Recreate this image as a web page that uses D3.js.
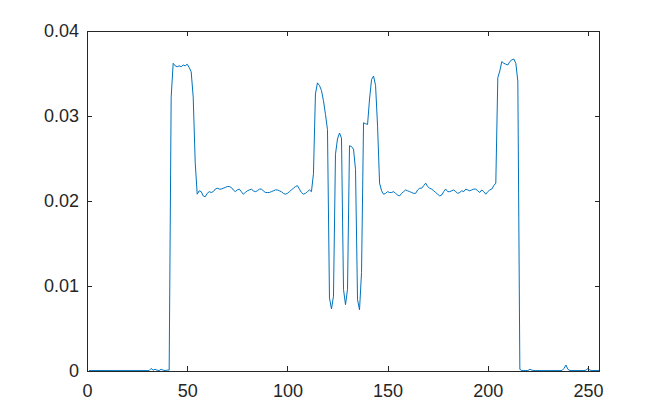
<!DOCTYPE html>
<html>
<head>
<meta charset="utf-8">
<script src="https://cdn.jsdelivr.net/npm/d3@7"></script>
<style>
  body { margin: 0; background: #fff; }
  svg text { font-family: "Liberation Sans", Arial, sans-serif; }
</style>
</head>
<body>
<div id="chart"></div>
<script>
let signal = [
  0.00005,0.00005,0.00005,0.00005,0.00005,0.00005,0.00005,0.00005,0.00005,0.00005,0.00005,0.00005,0.00005,0.00005,0.00005,0.00005,
  0.00005,0.00005,0.00005,0.00005,0.00005,0.00005,0.00005,0.00005,0.00005,0.00005,0.00005,0.00005,0.00005,0.00005,0.00005,0.0003,
  0.0001,0.0002,0.0001,0.00005,0.0002,0.0001,0.00005,0.0001,0.0001,0.0322,0.0362,0.0359,0.0358,0.0359,0.0358,0.0360,
  0.0359,0.0361,0.0357,0.0352,0.0322,0.0245,0.0208,0.0212,0.0211,0.0206,0.0205,0.0209,0.0211,0.0210,0.0211,0.0214,
  0.0215,0.0214,0.0214,0.0215,0.0216,0.0217,0.0217,0.0216,0.0213,0.0211,0.0213,0.0214,0.0211,0.0208,0.0210,0.0212,
  0.0213,0.0214,0.0212,0.0211,0.0212,0.0214,0.0214,0.0212,0.0210,0.0210,0.0210,0.0211,0.0212,0.0213,0.0213,0.0212,
  0.0211,0.0209,0.0208,0.0209,0.0211,0.0213,0.0215,0.0217,0.0218,0.0214,0.0210,0.0208,0.0209,0.0211,0.0213,0.0211,
  0.0232,0.0326,0.0339,0.0336,0.0330,0.0318,0.0302,0.0284,0.0086,0.0073,0.0088,0.0255,0.0273,0.0280,0.0274,0.0096,
  0.0078,0.0096,0.0265,0.0264,0.0261,0.0237,0.0084,0.0072,0.0116,0.0292,0.0291,0.0290,0.0320,0.0343,0.0347,0.0336,
  0.0288,0.0221,0.0212,0.0208,0.0209,0.0211,0.0210,0.0210,0.0211,0.0209,0.0207,0.0206,0.0209,0.0211,0.0213,0.0212,
  0.0211,0.0210,0.0209,0.0209,0.0213,0.0215,0.0215,0.0218,0.0221,0.0217,0.0215,0.0214,0.0212,0.0210,0.0208,0.0206,
  0.0207,0.0211,0.0214,0.0211,0.0211,0.0212,0.0213,0.0211,0.0209,0.0210,0.0212,0.0211,0.0214,0.0213,0.0212,0.0213,
  0.0214,0.0214,0.0212,0.0210,0.0213,0.0211,0.0208,0.0211,0.0213,0.0214,0.0218,0.0221,0.0345,0.0353,0.0364,0.0362,
  0.0361,0.0360,0.0364,0.0366,0.0367,0.0362,0.0341,0.0002,0.00005,0.00005,0.00005,0.00005,0.0002,0.0001,0.00005,0.00005,
  0.00005,0.00005,0.00005,0.00005,0.00005,0.00005,0.00005,0.00005,0.00005,0.00005,0.00005,0.00005,0.00005,0.0003,0.0007,0.0002,
  0.00005,0.00005,0.00005,0.00005,0.00005,0.00005,0.00005,0.00005,0.0001,0.0003,0.0001,0.00005,0.00005,0.00005,0.00005,0.00005
];
let xTicks = [0, 50, 100, 150, 200, 250];
let yTicks = [0, 0.01, 0.02, 0.03, 0.04];
let yTickLabels = ["0", "0.01", "0.02", "0.03", "0.04"];

const width = 663, height = 417;
const plotLeft = 87, plotRight = 600, plotTop = 31, plotBottom = 371;
const axisColor = "#262626";

let svg = d3.select("#chart").append("svg").attr("width", width).attr("height", height)
  .style("background", "#fff");

let x_scale = d3.scaleLinear().domain([0, 256]).range([plotLeft, plotRight]);
let y_scale = d3.scaleLinear().domain([0, 0.04]).range([plotBottom, plotTop]);

svg.append("clipPath").attr("id", "plotclip")
  .append("rect").attr("x", plotLeft).attr("y", plotTop - 1)
  .attr("width", plotRight - plotLeft).attr("height", plotBottom - plotTop + 2);

let points = signal.map((v, i) => [i + 1, v]);

svg.append("path")
  .datum(points)
  .attr("clip-path", "url(#plotclip)")
  .style("fill", "none")
  .style("stroke", "#0072BD")
  .style("stroke-width", 1)
  .attr("d", d3.line()
    .x(function(d) { return x_scale(d[0]) })
    .y(function(d) { return y_scale(d[1]) })
  );

function styleAxis(g) {
  g.select(".domain").remove();
  g.selectAll(".tick line").attr("stroke", axisColor).attr("shape-rendering", "crispEdges");
  g.selectAll(".tick text").attr("fill", axisColor).style("font-size", "18px");
}

let x_axis = d3.axisBottom(x_scale).tickValues(xTicks).tickSize(-5).tickPadding(13).tickFormat(d3.format("d"));
svg.append("g").attr("transform", `translate(0, ${plotBottom})`).call(x_axis).call(styleAxis);

let x_top = d3.axisTop(x_scale).tickValues(xTicks).tickSize(-5).tickFormat("");
svg.append("g").attr("transform", `translate(0, ${plotTop})`).call(x_top).call(styleAxis);

let y_axis = d3.axisLeft(y_scale).tickValues(yTicks).tickSize(-5).tickPadding(8)
  .tickFormat((d, i) => yTickLabels[i]);
svg.append("g").attr("transform", `translate(${plotLeft}, 0)`).call(y_axis).call(styleAxis);

let y_right = d3.axisRight(y_scale).tickValues(yTicks).tickSize(-5).tickFormat("");
svg.append("g").attr("transform", `translate(${plotRight}, 0)`).call(y_right).call(styleAxis);

// box round the axes
svg.append("rect")
  .attr("x", plotLeft + 0.5).attr("y", plotTop + 0.5)
  .attr("width", plotRight - plotLeft - 1).attr("height", plotBottom - plotTop)
  .attr("fill", "none").attr("stroke", axisColor).attr("stroke-width", 1)
  .attr("shape-rendering", "crispEdges");
</script>
</body>
</html>
